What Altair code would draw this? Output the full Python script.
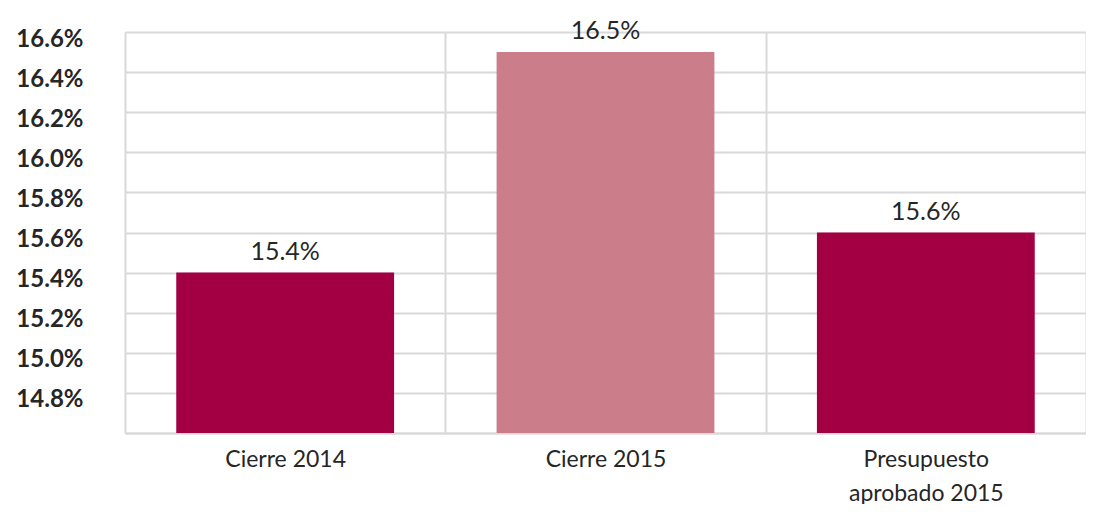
import altair as alt
import pandas as pd

categories = ["Cierre 2014", "Cierre 2015", "Presupuesto\naprobado 2015"]
values = [15.4, 16.5, 15.6]
bar_colors = ["#A30044", "#CC7D8A", "#A30044"]
y_ticks = [14.6, 14.8, 15.0, 15.2, 15.4, 15.6, 15.8, 16.0, 16.2, 16.4, 16.6]

df = pd.DataFrame({"cat": categories, "val": values, "color": bar_colors})
df["label"] = [f"{v:.1f}%" for v in values]

FONT = "Lato"
GRID = "#D9D9D9"

x = alt.X("cat:N", sort=categories, title=None,
          scale=alt.Scale(paddingInner=0, paddingOuter=0),
          axis=alt.Axis(labelAngle=0, labelFont=FONT, labelFontSize=23,
                        labelColor="#262626", labelPadding=15,
                        labelExpr="split(datum.label, '\\n')",
                        labelLineHeight=34, labelBaseline="top",
                        ticks=False, grid=True, gridColor=GRID, gridWidth=2,
                        tickBand="extent", domain=True, domainColor=GRID,
                        domainWidth=2))
y = alt.Y("val:Q", title=None,
          scale=alt.Scale(domain=[14.6, 16.6], zero=False, nice=False),
          axis=alt.Axis(values=y_ticks, labelFont=FONT, labelFontSize=24,
                        labelFontWeight="bold", labelColor="#262626",
                        labelExpr="datum.value < 14.7 ? '' : format(datum.value, '.1f') + '%'",
                        labelPadding=42, labelOffset=7, ticks=False,
                        domain=False, grid=True, gridColor=GRID, gridWidth=2))

base = alt.Chart(df)
bars = base.mark_bar(clip=True, width=alt.RelativeBandSize(0.68)).encode(
    x=x, y=y,
    color=alt.Color("color:N", scale=None),
)
text = base.mark_text(font=FONT, fontSize=25, color="#262626", dy=-13,
                      baseline="alphabetic").encode(
    x=alt.X("cat:N", sort=categories),
    y=alt.Y("val:Q"),
    text="label:N",
)

chart = alt.layer(bars, text).properties(
    width=961, height=401,
    autosize=alt.AutoSizeParams(type="none"),
    padding={"left": 117, "top": 24, "right": 0, "bottom": 71},
).configure_view(stroke=None).configure(background="white")

chart.save("out.html", embed_options={"renderer": "svg", "actions": False})
